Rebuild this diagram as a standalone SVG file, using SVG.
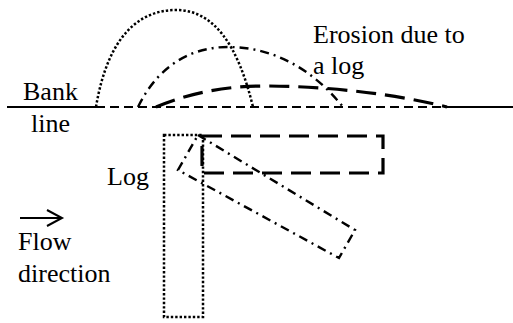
<svg xmlns="http://www.w3.org/2000/svg" width="513" height="323" viewBox="0 0 513 323">
<style>
text{font-family:"Liberation Serif","Times New Roman",serif;font-size:26px;fill:#000}
.solid{fill:none;stroke:#000;stroke-width:2}
.dash{fill:none;stroke:#000;stroke-width:2;stroke-dasharray:9 5}
.dot{fill:none;stroke:#000;stroke-width:2.5;stroke-dasharray:2.4 2}
.dashdot{fill:none;stroke:#000;stroke-width:2.4;stroke-dasharray:9 5 2 5}
.longdash{fill:none;stroke:#000;stroke-width:3.2;stroke-dasharray:20 9}
</style>
<rect width="513" height="323" fill="#fff"/>
<g id="bank">
<line class="solid" x1="7" y1="107" x2="96" y2="107"/>
<line class="dash" x1="96" y1="107" x2="447" y2="107"/>
<line class="solid" x1="447" y1="107" x2="513" y2="107"/>
<text x="23" y="100">Bank</text>
<text x="31" y="132">line</text>
</g>
<g id="erosion">
<path class="dot" d="M96,107 C108,35 140,10 176,10 C214,10 238,45 253,107"/>
<path class="dashdot" d="M138,107 C160,62 195,47 228,47 C272,47 312,68 343,107"/>
<path class="longdash" d="M156,107 C190,93 225,86 265,86 C330,86 400,95 447,107"/>
<text x="313" y="43">Erosion due to</text>
<text x="313" y="74">a log</text>
</g>
<g id="log">
<rect class="dot" x="164" y="135" width="39" height="182"/>
<rect class="longdash" x="202" y="136" width="181" height="37"/>
<polygon class="dashdot" points="198,135 355,230 339,258 178,170"/>
<text x="107" y="185">Log</text>
</g>
<g id="flow">
<line class="solid" x1="20" y1="218" x2="61" y2="218"/>
<polyline class="solid" points="47,210 62,218 47,226"/>
<text x="18" y="250">Flow</text>
<text x="18" y="282">direction</text>
</g>
</svg>
